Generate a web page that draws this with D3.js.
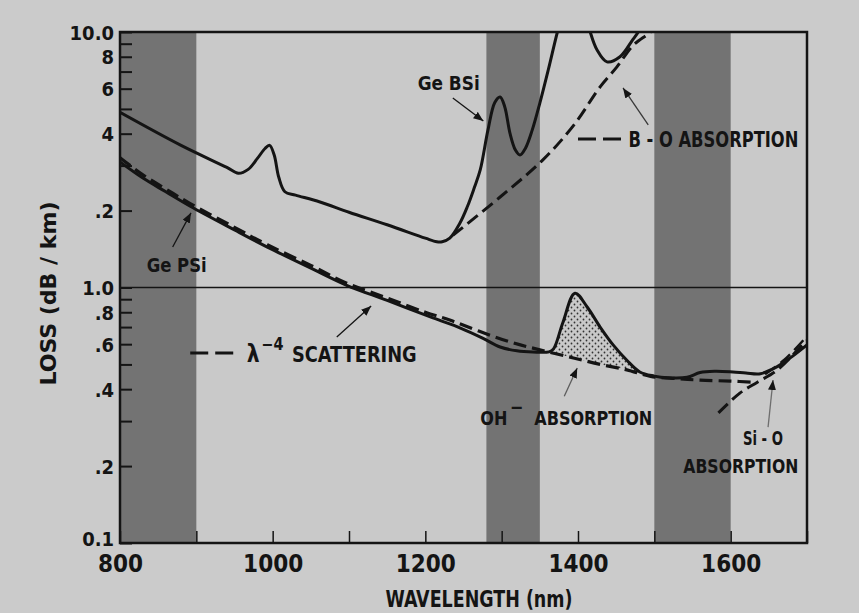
<!DOCTYPE html>
<html>
<head>
<meta charset="utf-8">
<script src="https://cdn.jsdelivr.net/npm/d3@7"></script>
<style>
  html, body { margin: 0; padding: 0; background: #cbcbcb; }
  svg { display: block; }
  text { font-family: "Liberation Sans Narrow", "DejaVu Sans Condensed", "Arial Narrow", sans-serif; font-weight: bold; fill: #141414; }
</style>
</head>
<body>
<svg id="chart" width="859" height="613"></svg>
<script>
// ---- data (wavelength in nm, loss in dB/km) ----
const wavelengthTicks = [800, 900, 1000, 1100, 1200, 1300, 1400, 1500, 1600, 1700];
const wavelengthLabels = [800, 1000, 1200, 1400, 1600];
const lossTicks = [0.1, 0.2, 0.3, 0.4, 0.5, 0.6, 0.7, 0.8, 0.9, 1, 2, 3, 4, 5, 6, 7, 8, 9, 10];
const lossLabelValues = [0.1, 0.2, 0.4, 0.6, 0.8, 1, 2, 4, 6, 8, 10];
const lossLabelText = ["0.1", ".2", ".4", ".6", ".8", "1.0", ".2", "4", "6", "8", "10.0"];

// low-loss transmission windows (shaded bands)
const windowBands = [[800, 900], [1280, 1350], [1500, 1600]];

// Ge-B-Si fibre: two pieces (curve leaves the top of the plot near 1.38 µm)
const geBSiWavelength = [800, 880, 940, 955, 968, 980, 990, 996, 1002, 1008, 1016, 1030, 1062, 1100, 1150, 1200, 1215, 1222, 1232, 1245, 1255, 1264, 1272, 1282, 1291, 1298, 1304, 1311, 1318, 1324, 1331, 1340, 1350, 1361, 1373, 1382];
const geBSiLoss       = [4.85, 3.6, 2.95, 2.8, 2.9, 3.2, 3.5, 3.6, 3.3, 2.7, 2.37, 2.3, 2.16, 1.97, 1.76, 1.56, 1.51, 1.51, 1.56, 1.78, 2.07, 2.45, 2.89, 4.13, 5.3, 5.57, 5.1, 4.0, 3.45, 3.3, 3.5, 4.13, 5.27, 7.1, 10, 12.5];
const geBSiWavelength2 = [1408, 1416, 1425, 1438, 1455, 1472, 1479, 1488];
const geBSiLoss2       = [12.5, 10, 8.5, 7.64, 8.0, 9.36, 10, 11.2];

// B-O absorption edge
const boWavelength = [1236, 1298, 1354, 1394, 1429, 1451, 1472, 1495, 1505];
const boLoss       = [1.6, 2.26, 3.16, 4.3, 6.1, 7.3, 8.85, 10, 10.8];

// Ge-P-Si fibre
const gePSiWavelength = [800, 830, 860, 892, 950, 993, 1050, 1097, 1150, 1210, 1246, 1275, 1298, 1320, 1341, 1362, 1368, 1380, 1396, 1412, 1429, 1446, 1464, 1481, 1500, 1517, 1543, 1560, 1580, 1603, 1620, 1639, 1661, 1680, 1700];
const gePSiLoss       = [3.1, 2.68, 2.37, 2.08, 1.68, 1.44, 1.19, 1.02, 0.89, 0.76, 0.694, 0.634, 0.585, 0.565, 0.559, 0.56, 0.575, 0.726, 0.95, 0.839, 0.70, 0.596, 0.519, 0.467, 0.45, 0.443, 0.445, 0.465, 0.47, 0.467, 0.463, 0.46, 0.49, 0.535, 0.596];

// Rayleigh (λ^-4) scattering
const scatterWavelength = [800, 830, 860, 892, 950, 993, 1050, 1097, 1150, 1200, 1232, 1270, 1311, 1350, 1394, 1429, 1464, 1495, 1530, 1560, 1600, 1630];
const scatterLoss       = [3.22, 2.76, 2.43, 2.13, 1.72, 1.47, 1.22, 1.04, 0.91, 0.8, 0.746, 0.675, 0.612, 0.57, 0.53, 0.50, 0.476, 0.449, 0.44, 0.434, 0.43, 0.426];

// Si-O infrared absorption edge, and its sum with scattering near 1.7 µm
const siOWavelength = [1584, 1612, 1635, 1661, 1695, 1700];
const siOLoss       = [0.323, 0.386, 0.426, 0.475, 0.6, 0.62];
const tailWavelength = [1645, 1670, 1700];
const tailLoss       = [0.458, 0.52, 0.645];

// OH- absorption peak: range shaded between fibre loss and scattering
const ohRange = [1362, 1481];

// ---- layout ----
const svg = d3.select("#chart");
const W = 859, H = 613;
const margin = {left: 120, right: 52, top: 32, bottom: 70};
const plotW = W - margin.left - margin.right;
const plotH = H - margin.top - margin.bottom;

const x = d3.scaleLinear().domain([800, 1700]).range([margin.left, margin.left + plotW]);
const y = d3.scaleLog().domain([0.1, 10]).range([margin.top + plotH, margin.top]);

const ink = "#141414";
const defs = svg.append("defs");
defs.append("clipPath").attr("id", "plotClip")
  .append("rect").attr("x", margin.left).attr("y", margin.top).attr("width", plotW).attr("height", plotH);

const pat = defs.append("pattern").attr("id", "dots").attr("patternUnits", "userSpaceOnUse")
  .attr("width", 6).attr("height", 6);
pat.append("circle").attr("cx", 1.5).attr("cy", 1.5).attr("r", 0.9).attr("fill", "#333");
pat.append("circle").attr("cx", 4.5).attr("cy", 4.5).attr("r", 0.9).attr("fill", "#333");

defs.append("marker").attr("id", "head").attr("viewBox", "0 0 10 8")
  .attr("refX", 10).attr("refY", 4).attr("markerWidth", 10).attr("markerHeight", 8)
  .attr("markerUnits", "userSpaceOnUse").attr("orient", "auto")
  .append("path").attr("d", "M0,0 L10,4 L0,8 Z").attr("fill", ink);

// plot background and bands
svg.append("rect").attr("x", margin.left).attr("y", margin.top).attr("width", plotW).attr("height", plotH)
  .attr("fill", "#c9c9c9");
svg.append("g").selectAll("rect").data(windowBands).join("rect")
  .attr("x", d => x(d[0])).attr("y", margin.top)
  .attr("width", d => x(d[1]) - x(d[0])).attr("height", plotH)
  .attr("fill", "#737373");

// 1.0 dB/km reference line
svg.append("line").attr("x1", margin.left).attr("x2", margin.left + plotW)
  .attr("y1", y(1)).attr("y2", y(1)).attr("stroke", ink).attr("stroke-width", 1.6);

// axes: ticks point inward
const labelFor = new Map(lossLabelValues.map((v, i) => [v, lossLabelText[i]]));
const yAxis = svg.append("g").attr("transform", `translate(${margin.left},0)`)
  .call(d3.axisLeft(y).tickValues(lossTicks).tickSize(-12).tickSizeOuter(0).tickPadding(6)
    .tickFormat(d => labelFor.get(d) || ""));
yAxis.select(".domain").remove();
yAxis.selectAll("line").attr("stroke", ink).attr("stroke-width", 2);
yAxis.selectAll("text").attr("font-size", 20).attr("fill", ink)
  .attr("font-family", null).attr("dy", d => d === 0.1 ? "0.1em" : "0.36em");

const xAxis = svg.append("g").attr("transform", `translate(0,${margin.top + plotH})`)
  .call(d3.axisBottom(x).tickValues(wavelengthTicks).tickSize(-12).tickSizeOuter(0).tickPadding(12)
    .tickFormat(d => wavelengthLabels.includes(d) ? String(d) : ""));
xAxis.select(".domain").remove();
xAxis.selectAll("line").attr("stroke", ink).attr("stroke-width", 1.5);
xAxis.selectAll("text").attr("font-size", 24).attr("fill", ink).attr("font-family", null);

// frame
svg.append("rect").attr("x", margin.left).attr("y", margin.top).attr("width", plotW).attr("height", plotH)
  .attr("fill", "none").attr("stroke", ink).attr("stroke-width", 2.5);

// axis titles
svg.append("text").attr("x", 479).attr("y", 607).attr("text-anchor", "middle")
  .attr("font-size", 23).attr("textLength", 187).attr("lengthAdjust", "spacingAndGlyphs")
  .text("WAVELENGTH (nm)");
svg.append("text").attr("transform", `translate(56,${y(1) + 6}) rotate(-90)`).attr("text-anchor", "middle")
  .attr("font-size", 21).attr("textLength", 184).attr("lengthAdjust", "spacingAndGlyphs")
  .text("LOSS (dB / km)");

// ---- curves ----
const zip = (xs, ys) => xs.map((v, i) => [v, ys[i]]);
const line = d3.line().x(d => x(d[0])).y(d => y(d[1])).curve(d3.curveCatmullRom.alpha(0.5));
const curves = svg.append("g").attr("clip-path", "url(#plotClip)");

const gePSi = zip(gePSiWavelength, gePSiLoss);
const scatter = zip(scatterWavelength, scatterLoss);

// OH- shaded region
const interp = (pts, w) => {
  for (let i = 1; i < pts.length; i++) {
    if (w <= pts[i][0]) {
      const [w0, l0] = pts[i - 1], [w1, l1] = pts[i];
      const t = (w - w0) / (w1 - w0);
      return Math.exp(Math.log(l0) + t * (Math.log(l1) - Math.log(l0)));
    }
  }
  return pts[pts.length - 1][1];
};
const ohTop = gePSi.filter(d => d[0] >= ohRange[0] && d[0] <= ohRange[1]);
const ohBottom = d3.range(ohRange[1], ohRange[0] - 1, -10).map(w => [w, interp(scatter, w)]);
curves.append("path")
  .attr("d", d3.line().x(d => x(d[0])).y(d => y(d[1])).curve(d3.curveCatmullRom)(ohTop) +
    "L" + ohBottom.map(d => `${x(d[0])},${y(d[1])}`).join("L") + "Z")
  .attr("fill", "url(#dots)").attr("stroke", "none");

const solid = (data) => curves.append("path").attr("d", line(data))
  .attr("fill", "none").attr("stroke", ink).attr("stroke-width", 3).attr("stroke-linejoin", "round");
const dashed = (data, w) => curves.append("path").attr("d", line(data))
  .attr("fill", "none").attr("stroke", ink).attr("stroke-width", w || 3).attr("stroke-dasharray", "13,6");

dashed(zip(boWavelength, boLoss));
dashed(scatter, 3.2);
dashed(zip(siOWavelength, siOLoss));
dashed(zip(tailWavelength, tailLoss), 2.5);
solid(zip(geBSiWavelength, geBSiLoss));
solid(zip(geBSiWavelength2, geBSiLoss2));
solid(gePSi);

// ---- annotations (positions in data units) ----
const ann = svg.append("g");
const arrow = (from, to, opacity) => ann.append("line")
  .attr("x1", x(from[0])).attr("y1", y(from[1])).attr("x2", x(to[0])).attr("y2", y(to[1]))
  .attr("stroke", ink).attr("stroke-width", 1.3).attr("stroke-opacity", opacity || 1)
  .attr("marker-end", "url(#head)");
const label = (w, l, text, size, len) => ann.append("text").attr("x", x(w)).attr("y", y(l))
  .attr("font-size", size).attr("textLength", len).attr("lengthAdjust", "spacingAndGlyphs").text(text);
const leader = (w0, w1, l) => ann.append("line").attr("x1", x(w0)).attr("x2", x(w1))
  .attr("y1", y(l)).attr("y2", y(l)).attr("stroke", ink).attr("stroke-width", 3).attr("stroke-dasharray", "18,7");

label(1190, 5.93, "Ge BSi", 20, 62);
arrow([1236, 5.52], [1276, 4.48]);

leader(1400, 1460, 3.81);
label(1466, 3.55, "B - O ABSORPTION", 21, 170);
arrow([1492, 4.33], [1459, 6.04], 0.8);

label(835, 1.15, "Ge PSi", 20, 60);
arrow([869, 1.44], [893, 1.96]);

// λ^-4 label: one text, exponent raised with tspans
leader(892, 955, 0.554);
const lam = ann.append("text").attr("x", x(966)).attr("y", y(0.511)).attr("font-size", 21)
  .attr("textLength", 170).attr("lengthAdjust", "spacingAndGlyphs");
lam.append("tspan").attr("font-size", 24).text("λ");
lam.append("tspan").attr("font-size", 17).attr("dx", 2).attr("dy", -12).text("−4");
lam.append("tspan").attr("dx", 9).attr("dy", 12).text("SCATTERING");
arrow([1084, 0.64], [1129, 0.846]);

// OH⁻ label: one text, ion charge raised with a tspan
const oh = ann.append("text").attr("x", x(1272)).attr("y", y(0.29)).attr("font-size", 20)
  .attr("textLength", 172).attr("lengthAdjust", "spacingAndGlyphs");
oh.append("tspan").text("OH");
oh.append("tspan").attr("dx", 3).attr("dy", -11).text("−");
oh.append("tspan").attr("dx", 12).attr("dy", 11).text("ABSORPTION");
arrow([1382, 0.375], [1399, 0.484], 0.6);

label(1616, 0.242, "Si - O", 20, 40);
label(1538, 0.188, "ABSORPTION", 20, 115);
arrow([1649, 0.284], [1655.5, 0.4345], 0.5);
</script>
</body>
</html>
